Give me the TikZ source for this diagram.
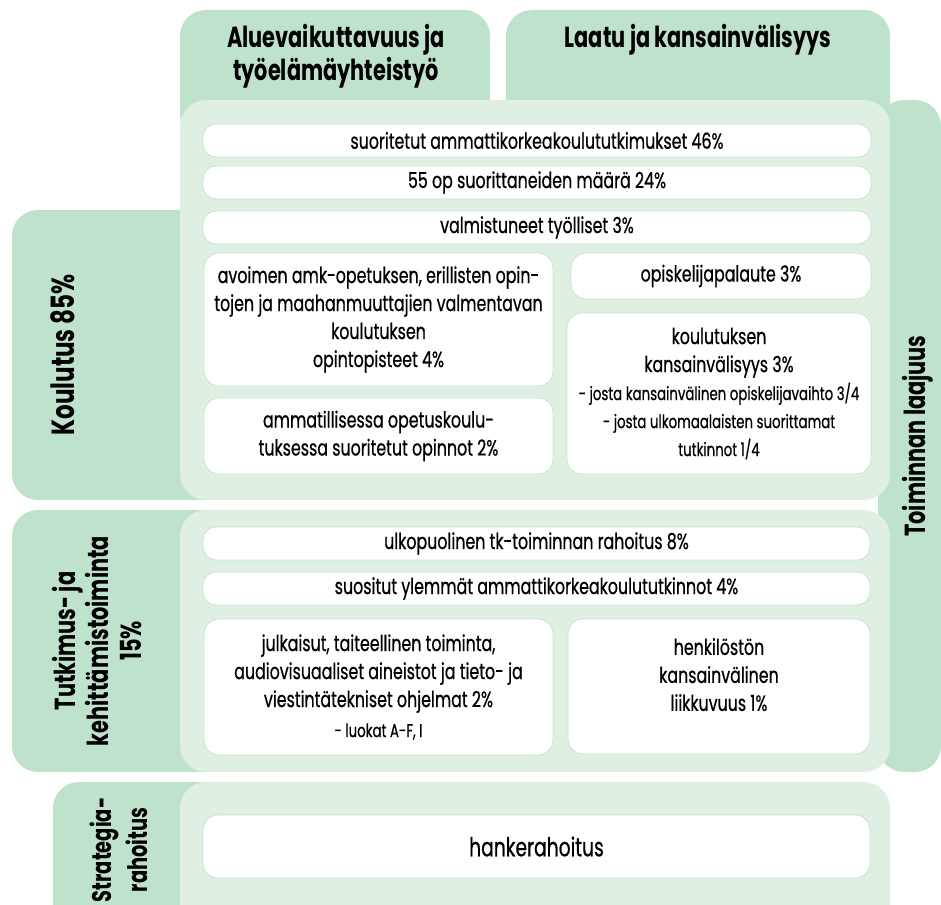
\documentclass[tikz,border=0pt]{standalone}
\usepackage{fontspec}
\setmainfont{Poppins}[FakeStretch=0.72, UprightFeatures={FakeBold=0.6}]
\definecolor{darkmint}{RGB}{191,226,204}
\definecolor{lightmint}{RGB}{223,239,226}
\definecolor{boxline}{RGB}{198,229,208}
\newcommand{\subline}{\fontsize{18.5}{26}\selectfont}
\begin{document}
\begin{tikzpicture}[x=1pt, y=-1pt,
  tabbox/.style={fill=darkmint, rounded corners=26pt},
  panelbox/.style={fill=lightmint, rounded corners=26pt},
  wbox/.style={draw=boxline, fill=white, line width=0.8pt, rounded corners=13pt, align=center, inner sep=0pt, font=\fontsize{22}{28}\selectfont},
  headtext/.style={font=\fontsize{29}{33}\selectfont\bfseries, align=center}]
\useasboundingbox (0,0) rectangle (941,904);
\clip (0,0) rectangle (941,904);
% tabs behind the panels
\fill[tabbox] (180,10) rectangle (490,140);
\fill[tabbox] (506,10) rectangle (890,140);
\fill[tabbox] (878,100) rectangle (941,772);
\fill[tabbox] (12,210) rectangle (230,500);
\fill[tabbox] (12,510) rectangle (230,772);
\fill[tabbox] (53,782) rectangle (230,940);
\node[headtext] (alue) at (336,56) {Aluevaikuttavuus ja\\työelämäyhteistyö};
\node[headtext] (laatu) at (698,40) {Laatu ja kansainvälisyys};
\node[headtext, rotate=90] (laajuus) at (918,436) {Toiminnan laajuus};
\node[headtext, rotate=90, font=\fontsize{32}{33}\selectfont\bfseries] (koulutus) at (63,355) {Koulutus 85\%};
\node[headtext, rotate=90] (tki) at (97,641) {Tutkimus- ja\\kehittämistoiminta\\15\%};
\node[headtext, rotate=90, font=\fontsize{27}{36}\selectfont\bfseries] (strategia) at (119,850) {Strategia-\\rahoitus};
% panels
\fill[panelbox] (180,100) rectangle (890,500);
\fill[panelbox] (180,510) rectangle (890,772);
\fill[panelbox] (180,782) rectangle (890,940);
% koulutus
\node[wbox, minimum width=668pt, minimum height=33pt] (tutk) at (537,140.5) {suoritetut ammattikorkeakoulututkimukset 46\%};
\node[wbox, minimum width=668pt, minimum height=33pt] (op55) at (537,182.5) {55 op suorittaneiden määrä 24\%};
\node[wbox, minimum width=668pt, minimum height=33pt] (tyoll) at (537,227.5) {valmistuneet työlliset 3\%};
\node[wbox, minimum width=349pt, minimum height=133pt, rounded corners=15pt] (avoin) at (378.5,319.5)
  {avoimen amk-opetuksen, erillisten opin-\\tojen ja maahanmuuttajien valmentavan\\koulutuksen\\opintopisteet 4\%};
\node[wbox, minimum width=349pt, minimum height=76pt, rounded corners=15pt] (ammat) at (378.5,436)
  {ammatillisessa opetuskoulu-\\tuksessa suoritetut opinnot 2\%};
\node[wbox, minimum width=300pt, minimum height=46pt, rounded corners=15pt] (palaute) at (721,276) {opiskelijapalaute 3\%};
\node[wbox, minimum width=304pt, minimum height=161pt, rounded corners=15pt] (kvkoul) at (719,393.5)
  {koulutuksen\\kansainvälisyys 3\%\\\subline - josta kansainvälinen opiskelijavaihto 3/4\\\subline - josta ulkomaalaisten suorittamat\\\subline tutkinnot 1/4};
% tki
\node[wbox, minimum width=667pt, minimum height=33pt] (ulkop) at (536.5,543.5) {ulkopuolinen tk-toiminnan rahoitus 8\%};
\node[wbox, minimum width=667pt, minimum height=33pt] (ylemm) at (536.5,588.5) {suositut ylemmät ammattikorkeakoulututkinnot 4\%};
\node[wbox, minimum width=349pt, minimum height=136pt, rounded corners=15pt] (julk) at (378.5,687)
  {julkaisut, taiteellinen toiminta,\\audiovisuaaliset aineistot ja tieto- ja\\viestintätekniset ohjelmat 2\%\\[2pt]\subline - luokat A-F, I};
\node[wbox, minimum width=302pt, minimum height=135pt, rounded corners=15pt, text depth=24pt] (henk) at (719,686.5)
  {henkilöstön\\kansainvälinen\\liikkuvuus 1\%};
% strategia
\node[wbox, minimum width=667pt, minimum height=63pt, rounded corners=15pt, font=\fontsize{26}{30}\selectfont] (hanke) at (536.5,846.5) {hankerahoitus};
\end{tikzpicture}
\end{document}
